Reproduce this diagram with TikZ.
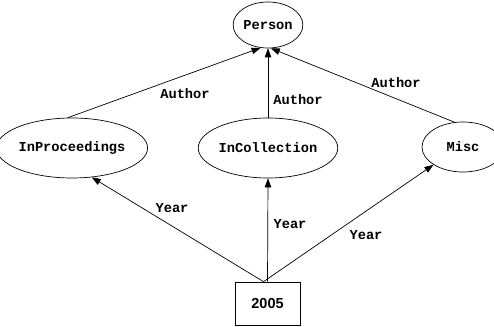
\documentclass[tikz,border=0pt]{standalone}
\usepackage{fontspec}
\setmonofont{Liberation Mono}
\setsansfont{Liberation Sans}
\usetikzlibrary{arrows.meta,shapes.geometric}

\begin{document}
\begin{tikzpicture}[x=1pt,y=-1pt,
  cls/.style={draw,ellipse,inner sep=0pt,line width=0.7pt,
    font=\fontsize{13.7}{16}\selectfont\ttfamily\bfseries},
  val/.style={draw,rectangle,inner sep=0pt,line width=0.7pt,
    minimum width=65pt,minimum height=43pt,
    font=\fontsize{14.5}{17}\selectfont\sffamily\bfseries},
  lbl/.style={inner sep=0pt,font=\fontsize{13.7}{16}\selectfont\ttfamily\bfseries},
  rel/.style={line width=0.7pt,-{Triangle[length=9pt,width=6.5pt]}}]

\useasboundingbox (0,0) rectangle (494,326);
\clip (0,0) rectangle (494,326);

% classes and the value:
\node[cls,minimum width=66pt,minimum height=46pt] (person) at (268,25) {Person};
\node[cls,minimum width=120pt,minimum height=60pt] (inproc) at (72,148) {InProceedings};
\node[cls,minimum width=120pt,minimum height=60pt] (incoll) at (268,148) {InCollection};
\node[cls,minimum width=82pt,minimum height=50pt] (misc) at (463,147) {Misc};
\node[val] (y2005) at (267.5,303.5) {2005};

% Author edges:
\draw[rel] (inproc.98) -- (person.252);
\draw[rel] (incoll.north) -- (person.south);
\draw[rel] (misc.109) -- (person.277);
\node[lbl] (authinproc) at (185,94) {Author};
\node[lbl] (authincoll) at (298,100) {Author};
\node[lbl] (authmisc) at (396,83) {Author};

% Year edges:
\draw[rel] ([xshift=-4pt]y2005.north) -- (inproc.304);
\draw[rel] (y2005.north) -- (incoll.south);
\draw[rel] ([xshift=-4pt]y2005.north) -- (misc.211);
\node[lbl] (yearinproc) at (172,208) {Year};
\node[lbl] (yearincoll) at (290,224) {Year};
\node[lbl] (yearmisc) at (366,235) {Year};

\end{tikzpicture}
\end{document}
